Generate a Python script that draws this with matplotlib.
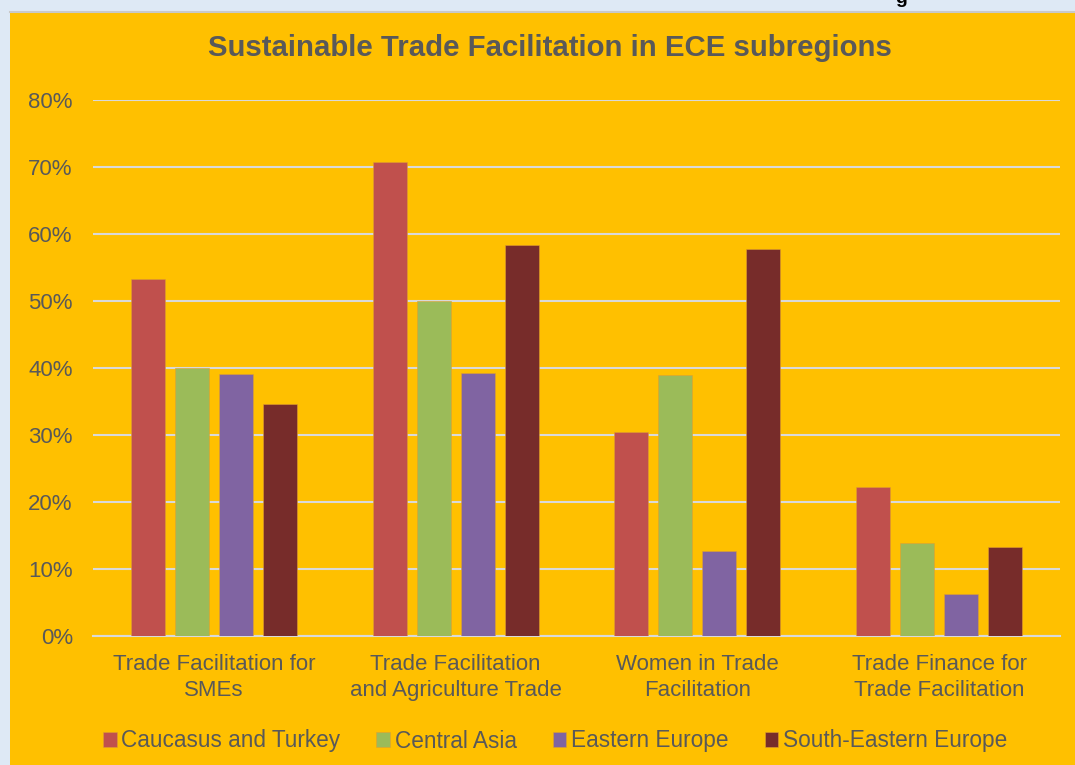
import matplotlib
import matplotlib.pyplot as plt
import numpy as np
from matplotlib.patches import Rectangle

matplotlib.use("Agg")

plt.rcParams["font.family"] = ["Liberation Sans", "DejaVu Sans"]

categories = [
    "Trade Facilitation for\nSMEs",
    "Trade Facilitation\nand Agriculture Trade",
    "Women in Trade\nFacilitation",
    "Trade Finance for\nTrade Facilitation",
]
series_names = [
    "Caucasus and Turkey",
    "Central Asia",
    "Eastern Europe",
    "South-Eastern Europe",
]
caucasus_turkey = [0.533, 0.708, 0.305, 0.222]
central_asia = [0.400, 0.500, 0.389, 0.139]
eastern_europe = [0.391, 0.393, 0.127, 0.063]
south_eastern_europe = [0.346, 0.583, 0.578, 0.133]
yticks = [0.0, 0.1, 0.2, 0.3, 0.4, 0.5, 0.6, 0.7, 0.8]

colors = ["#C0504D", "#9BBB59", "#8064A2", "#772C2A"]
text_color = "#595959"
grid_color = "#D9D9D9"

W, H = 1075, 765
fig = plt.figure(figsize=(W / 100, H / 100), dpi=100)
fig.patch.set_facecolor("#DEE9F5")

# background: orange chart area with a thin grey top edge
bg = fig.add_axes([0, 0, 1, 1], zorder=-1)
bg.set_xlim(0, W)
bg.set_ylim(H, 0)
bg.axis("off")
bg.add_patch(Rectangle((10, 12), W, H, facecolor="#FFC000", edgecolor="none"))
bg.plot([10, W], [12, 12], color="#C9C9C9", lw=1.5)
# descender of the heading above the chart
bg.text(895, 3, "g", fontsize=14, fontweight="bold", color="black",
        ha="left", va="baseline")

ax = fig.add_axes([93 / W, 1 - 636 / H, (1060 - 93) / W, (636 - 100) / H])
ax.set_facecolor("none")

all_series = [caucasus_turkey, central_asia, eastern_europe, south_eastern_europe]
x = np.arange(len(categories))
width = 0.14
step = 0.182
for i, (name, vals) in enumerate(zip(series_names, all_series)):
    ax.bar(x + (i - 1.5) * step, vals, width, color=colors[i], label=name,
           edgecolor="#E0A030", linewidth=0.4, zorder=3)

ax.set_xlim(-0.5, len(categories) - 0.5)
ax.set_ylim(0, 0.8)
ax.set_yticks(yticks)
ax.set_yticklabels([f"{int(round(t * 100))}%" for t in yticks])
ax.set_xticks(x)
ax.set_xticklabels(categories, linespacing=1.3)
ax.tick_params(axis="both", length=0, labelsize=16, colors=text_color)
ax.tick_params(axis="y", pad=14.5)
ax.tick_params(axis="x", pad=13)
ax.grid(axis="y", color=grid_color, lw=1.5, zorder=0)
for s in ["top", "right", "left"]:
    ax.spines[s].set_visible(False)
ax.spines["bottom"].set_color(grid_color)
ax.spines["bottom"].set_linewidth(1.5)

fig.text(550 / W, 1 - 48 / H, "Sustainable Trade Facilitation in ECE subregions",
         fontsize=21.2, fontweight="bold", color=text_color, ha="center", va="center")

leg = fig.legend(loc="center", bbox_to_anchor=(555 / W, 1 - 741 / H), ncol=4,
                 frameon=False, fontsize=16.3, handlelength=0.6, handleheight=0.6,
                 handletextpad=0.2, columnspacing=1.6)
for t in leg.get_texts():
    t.set_color(text_color)

fig.savefig("out.png", dpi=100, facecolor=fig.get_facecolor())
